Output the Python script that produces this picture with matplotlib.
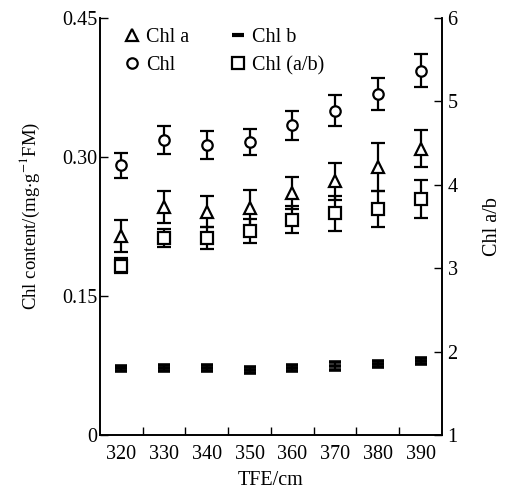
import numpy as np
from matplotlib import pyplot as plt
from matplotlib.lines import Line2D

plt.rcParams['font.family'] = ['Liberation Serif', 'DejaVu Serif']
plt.rcParams['mathtext.fontset'] = 'stix'

tfe = ['320', '330', '340', '350', '360', '370', '380', '390']

chl_a = [0.215, 0.246, 0.241, 0.245, 0.261, 0.274, 0.289, 0.309]
chl_a_err = [0.017, 0.0175, 0.0166, 0.019, 0.0175, 0.020, 0.026, 0.020]

chl_b = [0.0718, 0.0725, 0.072, 0.0703, 0.072, 0.0747, 0.0768, 0.0797]
chl_b_err = [0.0032, 0.0032, 0.0032, 0.0032, 0.0032, 0.004, 0.0035, 0.0035]

chl = [0.291, 0.318, 0.313, 0.316, 0.334, 0.350, 0.368, 0.393]
chl_err = [0.0135, 0.015, 0.015, 0.014, 0.0157, 0.017, 0.0175, 0.018]

ratio = [3.03, 3.36, 3.36, 3.45, 3.58, 3.66, 3.71, 3.83]
ratio_err = [0.09, 0.11, 0.135, 0.145, 0.16, 0.21, 0.215, 0.225]

x = np.arange(len(tfe))
fs = 14.5

fig = plt.figure(figsize=(5.06, 4.97), dpi=100)
ax = fig.add_axes([0.1976, 0.1247, 0.6759, 0.8391])
ax2 = ax.twinx()

eb = dict(color='black', ecolor='black', elinewidth=1.6, linestyle='none')
ax.errorbar(x, chl_a, yerr=chl_a_err, marker='^', ms=9, mfc='white', mew=1.6,
            capsize=5, capthick=1.6, **eb)
ax.errorbar(x, chl, yerr=chl_err, marker='o', ms=7.5, mfc='white', mew=1.6,
            capsize=5, capthick=1.6, **eb)
ax.errorbar(x, chl_b, yerr=chl_b_err, marker='_', ms=8, mew=2.6,
            capsize=4, capthick=1.3, **eb)
ax2.errorbar(x, ratio, yerr=ratio_err, marker='s', ms=8, mfc='white', mew=1.6,
             capsize=5, capthick=1.6, **eb)

ax.set_xlim(-0.5, 7.5)
ax.set_ylim(0, 0.45)
ax2.set_ylim(1, 6)

# category labels sit between the tick marks
ax.set_xticks(x[:-1] + 0.5)
ax.set_xticklabels([])
ax.set_xticks(x, minor=True)
ax.set_xticklabels(tfe, minor=True)
ax.tick_params(axis='x', which='minor', length=0, pad=7, labelsize=fs)
ax.tick_params(axis='x', which='major', direction='in', length=6, width=1)

ax.set_yticks([0, 0.15, 0.30, 0.45])
ax.set_yticklabels(['0', '0.15', '0.30', '0.45'])
ax.tick_params(axis='y', direction='in', length=6, width=1, pad=2, labelsize=fs)
ax2.set_yticks([1, 2, 3, 4, 5, 6])
ax2.tick_params(axis='y', direction='in', length=6, width=1, pad=4, labelsize=fs)

for a in (ax, ax2):
    a.spines['top'].set_visible(False)
    for s in a.spines.values():
        s.set_linewidth(1.2)

ax.set_xlabel('TFE/cm', fontsize=fs, labelpad=5)
ax.set_ylabel(r'Chl content/(mg$\cdot$g$^{-1}$FM)', fontsize=13.5)
ax.yaxis.set_label_coords(-0.17, 0.525)
ax2.set_ylabel('Chl a/b', fontsize=fs, labelpad=18)

handles = [
    Line2D([], [], color='black', marker='^', ms=9, mfc='white', mew=1.6, linestyle='none'),
    Line2D([], [], color='black', marker='o', ms=7.5, mfc='white', mew=1.6, linestyle='none'),
    Line2D([], [], color='black', marker='_', ms=9, mew=3, linestyle='none'),
    Line2D([], [], color='black', marker='s', ms=8, mfc='white', mew=1.6, linestyle='none'),
]
labels = ['Chl a', 'Chl', 'Chl b', 'Chl (a/b)']
ax.legend(handles, labels, ncol=2, loc='upper left', frameon=False, fontsize=fs,
          handlelength=0.8, handletextpad=0.3, columnspacing=2.0, labelspacing=0.45,
          borderaxespad=0.2, bbox_to_anchor=(0.035, 1.005))

fig.savefig('out.png', dpi=100)
